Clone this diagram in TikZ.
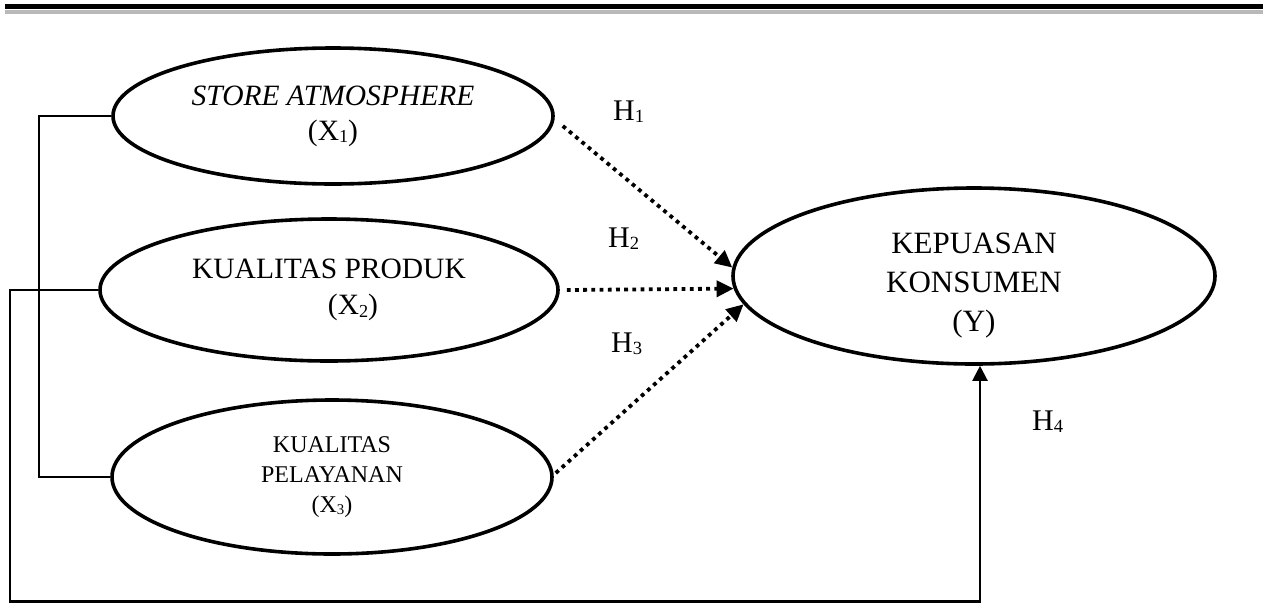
\documentclass[tikz,border=0pt]{standalone}
\usepackage{fontspec}
\setmainfont{Liberation Serif}
\usepackage{graphicx}
\usetikzlibrary{shapes.geometric,arrows.meta,calc}
\newcommand{\sbs}[1]{\raisebox{-2.5pt}{\scalebox{0.62}{#1}}}
\begin{document}
\begin{tikzpicture}[x=1pt,y=-1pt,
  ell/.style={draw, ellipse, line width=3.6pt, inner sep=0pt},
  lbl/.style={align=center, inner sep=0pt},
  hyp/.style={anchor=base west, font=\fontsize{30}{36}\selectfont, inner sep=0pt},
  dotarrow/.style={line width=3.8pt, dash pattern=on 3.8pt off 4.4pt, -{Triangle[length=17pt,width=16pt]}},
  conn/.style={line width=2.2pt},
  tip/.style={-{Triangle[length=15pt,width=15pt]}}
]
\useasboundingbox (0,0) rectangle (1263,603);
% top rule
\coordinate (tl) at (5,6.5);
\coordinate (tr) at (1263,6.5);
\draw[line width=4.5pt, black] (tl) -- (tr);
\draw[line width=3.5pt, gray!55] ([yshift=-5.5pt]tl) -- ([yshift=-5.5pt]tr);
% ellipses
\node[ell, lbl, minimum width=440pt, minimum height=136pt, font=\fontsize{29.5}{35}\selectfont] (X1) at (333,116)
  {\textit{STORE ATMOSPHERE}\\(X\sbs{1})};
\node[ell, lbl, minimum width=458pt, minimum height=142pt, font=\fontsize{29.5}{36}\selectfont] (X2) at (329,290)
  {KUALITAS PRODUK\\\hspace*{48pt}(X\sbs{2})};
\node[ell, lbl, minimum width=440pt, minimum height=154pt, font=\fontsize{24}{30}\selectfont] (X3) at (332,477)
  {KUALITAS\\PELAYANAN\\(X\sbs{3})};
\node[ell, minimum width=482pt, minimum height=176pt] (Y) at (974,276) {};
\node[lbl, font=\fontsize{31}{39}\selectfont] (Ytxt) at ([yshift=-10pt]Y.center)
  {KEPUASAN\\KONSUMEN\\(Y)};
% hypothesis labels
\node[hyp] (H1) at (613,120) {H\sbs{1}};
\node[hyp] (H2) at (608,247) {H\sbs{2}};
\node[hyp] (H3) at (611,352) {H\sbs{3}};
\node[hyp] (H4) at (1032,430) {H\sbs{4}};
% dotted arrows
\draw[dotarrow] ([shift={(8,10)}]X1.east) -- (Y.178);
\draw[dotarrow] ([shift={(7,0)}]X2.east) -- (Y.183);
\draw[dotarrow] ([shift={(2,-4)}]X3.east) -- (Y.187);
% left connectors
\draw[conn] (X1.west) -- ++(-72,0) |- (X3.west);
\coordinate (bl) at (10,601.5);
\coordinate (br) at (980,601.5);
\draw[conn, tip] (X2.west) -| (bl) -- (br) -- (br |- Y.south);
\end{tikzpicture}
\end{document}
